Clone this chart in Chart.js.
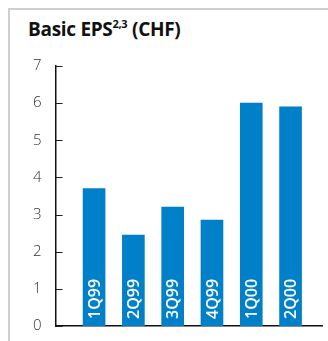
<!DOCTYPE html>
<html>
<head>
<meta charset="utf-8">
<script src="https://cdn.jsdelivr.net/npm/chart.js@4/dist/chart.umd.min.js"></script>
<style>
  html, body { margin: 0; padding: 0; background: #fff; }
  body { width: 328px; height: 341px; position: relative; overflow: hidden; font-family: "Open Sans", sans-serif; }
  .frame { position: absolute; left: 8px; top: 8px; right: -4px; bottom: -4px; border-left: 2px solid #cfcfcf; border-top: 2px solid #cfcfcf; }
  .title { position: absolute; left: 28px; top: 16px; font-size: 19px; font-weight: 700; color: #111; letter-spacing: -0.3px; }
  .title sup { font-size: 11px; position: relative; top: -1px; }
  canvas { position: absolute; left: 0; top: 0; }
</style>
</head>
<body>
<div class="frame"></div>
<div class="title">Basic EPS<sup>2,3</sup> (CHF)</div>
<canvas id="chartEps" width="328" height="341"></canvas>
<script>
// Dados do gráfico
const quarters = ['1Q99', '2Q99', '3Q99', '4Q99', '1Q00', '2Q00'];
const epsValues = [3.7, 2.45, 3.2, 2.85, 6.0, 5.9];
const yTicks = [0, 1, 2, 3, 4, 5, 6, 7];

// Rótulos verticais dentro das barras + marcas do eixo y para dentro
const barLabels = {
    id: 'barLabels',
    afterDatasetsDraw(chart) {
        const ctx = chart.ctx;
        const meta = chart.getDatasetMeta(0);
        ctx.save();
        ctx.fillStyle = '#fff';
        ctx.font = '600 16px "Open Sans", sans-serif';
        ctx.textAlign = 'left';
        ctx.textBaseline = 'middle';
        meta.data.forEach((bar, i) => {
            ctx.save();
            ctx.translate(bar.x + 1, bar.base - 7);
            ctx.rotate(-Math.PI / 2);
            ctx.fillText(quarters[i], 0, 0);
            ctx.restore();
        });
        ctx.restore();
    },
    afterDraw(chart) {
        const ctx = chart.ctx;
        const y = chart.scales.y;
        ctx.save();
        ctx.strokeStyle = '#222';
        ctx.lineWidth = 1;
        yTicks.forEach(v => {
            const py = Math.round(y.getPixelForValue(v)) + 0.5;
            ctx.beginPath();
            ctx.moveTo(y.right, py);
            ctx.lineTo(y.right + 7, py);
            ctx.stroke();
        });
        ctx.restore();
    }
};

new Chart(document.getElementById('chartEps').getContext('2d'), {
    type: 'bar',
    data: {
        datasets: [{
            data: epsValues.map((v, i) => ({ x: i, y: v })),
            backgroundColor: '#0080c8',
            borderWidth: 0,
            barThickness: 22
        }]
    },
    options: {
        responsive: false,
        animation: false,
        layout: { padding: { left: 19, right: 6, top: 66, bottom: 15 } },
        plugins: { legend: { display: false }, tooltip: { enabled: false } },
        scales: {
            x: {
                type: 'linear',
                min: -0.98,
                max: 5.8,
                offset: false,
                grid: { display: false, drawTicks: false },
                ticks: { display: false, padding: 0 },
                border: { display: true, color: '#111', width: 1.5 },
                afterFit: axis => { axis.height = 0; }
            },
            y: {
                min: 0,
                max: 7,
                afterBuildTicks: axis => { axis.ticks = yTicks.map(v => ({ value: v })); },
                afterFit: axis => { axis.paddingTop = 0; axis.paddingBottom = 0; },
                grid: { display: false, drawTicks: false },
                border: { display: true, color: '#111', width: 1.5 },
                ticks: {
                    padding: 14,
                    color: '#333',
                    font: { family: '"Open Sans", sans-serif', size: 15, weight: '300' }
                }
            }
        }
    },
    plugins: [barLabels]
});
</script>
</body>
</html>
